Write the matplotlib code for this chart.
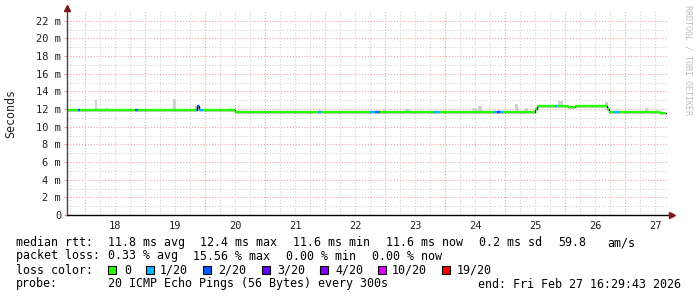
import matplotlib
matplotlib.use("Agg")
import matplotlib.pyplot as plt
from matplotlib.collections import LineCollection
from matplotlib.patches import Rectangle

# ---------------- data ----------------
day_labels = ["18", "19", "20", "21", "22", "23", "24", "25", "26", "27"]
day_label_pos = [18.5, 19.5, 20.5, 21.5, 22.5, 23.5, 24.5, 25.5, 26.5, 27.5]
y_ticks = [0, 2, 4, 6, 8, 10, 12, 14, 16, 18, 20, 22]
y_tick_labels = ["0", "2 m", "4 m", "6 m", "8 m", "10 m", "12 m",
                 "14 m", "16 m", "18 m", "20 m", "22 m"]

# median rtt in ms, step breakpoints (time in days of Feb)
med_t = [17.70, 18.42, 18.67, 19.87, 19.905, 20.50, 25.50, 25.533,
         26.05, 26.167, 26.70, 26.733, 27.583, 27.683]
med_v = [11.85, 11.92, 11.85, 12.35, 11.85, 11.68, 12.00, 12.34,
         12.28, 12.32, 12.00, 11.68, 11.56, 11.56]

# packet loss periods (level index into loss_names)
loss_start = [17.88, 18.833, 19.833, 19.87, 19.905, 21.883, 22.75, 22.833,
              23.80, 24.80, 24.867, 24.917, 25.833, 26.80]
loss_end = [17.92, 18.883, 19.87, 19.905, 19.96, 21.93, 22.833, 22.917,
            23.917, 24.867, 24.917, 24.967, 25.867, 26.917]
loss_level = [2, 2, 1, 2, 1, 1, 1, 2, 1, 1, 3, 1, 1, 1]

# smoke (ping spread above median), ms
smoke_t0 = [18.16, 18.333, 19.47, 19.833, 20.367, 22.97, 23.33, 24.467,
            24.55, 25.167, 25.333, 25.883, 26.667, 27.333]
smoke_t1 = [18.205, 18.383, 19.51, 19.867, 20.40, 23.00, 23.42, 24.533,
            24.617, 25.217, 25.383, 25.967, 26.717, 27.383]
smoke_top = [13.0, 12.1, 13.1, 12.3, 12.05, 12.05, 12.05, 12.1,
             12.35, 12.6, 12.1, 12.95, 12.8, 12.1]

loss_names = ["0", "1/20", "2/20", "3/20", "4/20", "10/20", "19/20"]
loss_colors = ["#26ff00", "#00b8ff", "#0059ff", "#5e00ff", "#7e00ff",
               "#dd00ff", "#ff0000"]

stats_rtt = ["median rtt:", "11.8 ms avg", "12.4 ms max", "11.6 ms min",
             "11.6 ms now", "0.2 ms sd", "59.8", "am/s"]
stats_loss = ["packet loss:", "0.33 % avg", "15.56 % max", "0.00 % min",
              "0.00 % now"]
probe_text = ["probe:", "20 ICMP Echo Pings (56 Bytes) every 300s",
              "end: Fri Feb 27 16:29:43 2026"]

# ---------------- layout ----------------
W, H = 697, 297
MONO = "DejaVu Sans Mono"
fig = plt.figure(figsize=(W / 100, H / 100), dpi=100)
fig.patch.set_facecolor("white")
ax = fig.add_axes([67 / W, 82 / H, 600 / W, 203 / H])
ax.set_xlim(17.7, 27.7)
ax.set_ylim(0, 23)
ax.set_facecolor("white")

minor_c = "#d2d2d2"
major_c = "#f2a2a2"
dot = (0, (1, 1.6))
for v in range(1, 23, 2):
    ax.axhline(v, color=minor_c, lw=0.8, ls=dot, zorder=0.5)
for d in range(17, 28):
    for q in (0.25, 0.5, 0.75):
        t = d + q
        if 17.7 < t < 27.7:
            ax.axvline(t, color=minor_c, lw=0.8, ls=dot, zorder=0.5)
for v in y_ticks[1:]:
    ax.axhline(v, color=major_c, lw=0.8, ls=dot, zorder=0.6)
for d in range(18, 28):
    ax.axvline(d, color=major_c, lw=0.8, ls=dot, zorder=0.6)


def med_at(t):
    idx = 0
    for i, tt in enumerate(med_t):
        if tt <= t + 1e-9:
            idx = i
    return med_v[idx]


# smoke
for t0, t1, top in zip(smoke_t0, smoke_t1, smoke_top):
    b = med_at(t0)
    ax.bar(t0, top - b, width=t1 - t0, bottom=b, align="edge",
           color="#d0d0d0", edgecolor="none", zorder=1)

# median: black step underneath, coloured horizontal segments on top
ax.step(med_t, med_v, where="post", color="black", lw=1.0, zorder=2)
bps = sorted(set(med_t + [t for t in loss_start + loss_end
                          if med_t[0] <= t <= med_t[-1]]))
segs, cols = [], []
for a, b in zip(bps[:-1], bps[1:]):
    mid = 0.5 * (a + b)
    v = med_at(a)
    c = loss_colors[0]
    for s, e, lv in zip(loss_start, loss_end, loss_level):
        if s <= mid < e:
            c = loss_colors[lv]
    segs.append([(a, v), (b, v)])
    cols.append(c)
ax.add_collection(LineCollection(segs, colors=cols, linewidths=1.7,
                                 capstyle="butt", zorder=3))

# axes styling
for s in ax.spines.values():
    s.set_visible(False)
ax.plot([0, 0], [0, 1.015], transform=ax.transAxes, color="#444444",
        lw=1.0, clip_on=False, zorder=4)
ax.plot([0, 1.006], [0, 0], transform=ax.transAxes, color="black",
        lw=1.0, clip_on=False, zorder=4)
ax.plot([0], [1.0 + 4.5 / 203], marker="^", transform=ax.transAxes,
        color="#801818", markersize=4, clip_on=False, zorder=5)
ax.plot([1.0 + 4.5 / 600], [0], marker=">", transform=ax.transAxes,
        color="#801818", markersize=4, clip_on=False, zorder=5)

ax.set_yticks(y_ticks)
ax.set_yticklabels(y_tick_labels, family=MONO, fontsize=7.5, color="#222222")
ax.tick_params(axis="y", length=2, width=0.8, color=major_c, pad=2.2)
ax.set_xticks(day_label_pos)
ax.set_xticklabels(day_labels, family=MONO, fontsize=7.5, color="#222222")
ax.tick_params(axis="x", length=0, pad=4.5)


def ftext(x, y, s, **kw):
    fig.text(x / W, 1 - y / H, s, **kw)


ftext(11, 114, "Seconds", rotation=90, ha="center", va="center",
      family=MONO, fontsize=8.4, color="#222222")
ftext(688, 5, "RRDTOOL / TOBI OETIKER", rotation=270, ha="center",
      va="top", family=MONO, fontsize=6, color="#bdbdbd")

# legend rows
rtt_x = [16, 108, 200, 293, 386, 479, 558, 607]
for s, x in zip(stats_rtt, rtt_x):
    ftext(x, 246, s, family=MONO, fontsize=8.4, va="baseline")
loss_x = [16, 108, 193, 286, 372]
for s, x in zip(stats_loss, loss_x):
    ftext(x, 259.5, s, family=MONO, fontsize=8.4, va="baseline")
ftext(16, 273.5, "loss color:", family=MONO, fontsize=8.4, va="baseline")
box_x = [108, 146, 203, 262, 320, 378, 442]
lab_x = [124, 160, 218, 277, 335, 392, 457]
for name, col, bx, lx in zip(loss_names, loss_colors, box_x, lab_x):
    fig.add_artist(Rectangle((bx / W, 1 - 273.5 / H), 8 / W, 8 / H,
                             transform=fig.transFigure, facecolor=col,
                             edgecolor="black", lw=0.8))
    ftext(lx, 273.5, name, family=MONO, fontsize=8.4, va="baseline")
probe_x = [16, 108, 478]
for s, x in zip(probe_text, probe_x):
    ftext(x, 287.5, s, family=MONO, fontsize=8.4, va="baseline")

fig.savefig("out.png", dpi=100, facecolor="white")
